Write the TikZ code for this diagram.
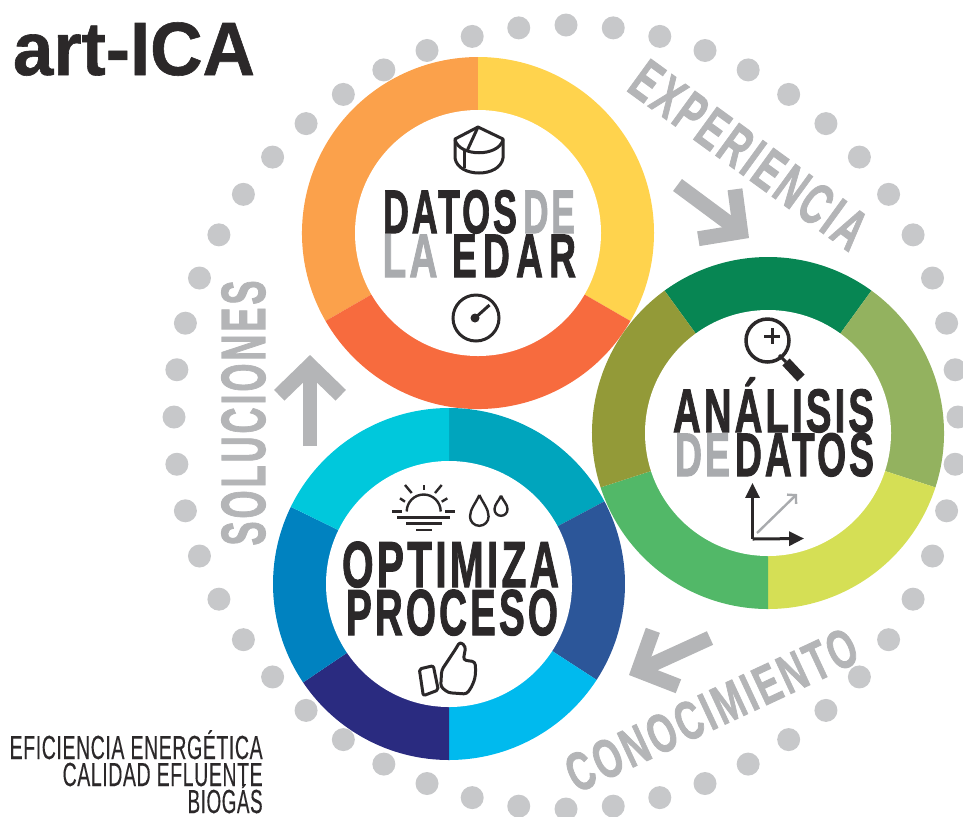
\documentclass[tikz,border=0pt]{standalone}
\usepackage{fontspec}
\usepackage{graphicx}
\setmainfont{Liberation Sans}
\newfontfamily\heavyfont[FakeBold=1.8, LetterSpace=8]{Liberation Sans}
\newfontfamily\plainfont[FakeBold=0.3, LetterSpace=3]{Liberation Sans}
\newfontfamily\titlefont[FakeBold=0.8]{Liberation Sans}
\usetikzlibrary{arrows.meta, positioning, calc}
\newlength{\px}
\setlength{\px}{0.02cm}
\newcommand{\fitword}[2]{\resizebox{#1\px}{\height}{#2}}
\definecolor{inkblack}{HTML}{2B2829}
\definecolor{softgrey}{HTML}{A9ABAE}
\definecolor{arrowgrey}{HTML}{B4B5B7}
\definecolor{dotgrey}{HTML}{C7C8CA}
\tikzstyle{darkword} = [anchor=base, inner sep=0pt, text=inkblack, font=\heavyfont\bfseries\fontsize{35}{35}\selectfont]
\tikzstyle{greyword} = [darkword, text=softgrey]
\tikzstyle{sideword} = [anchor=center, inner sep=0pt, text=arrowgrey, font=\heavyfont\bfseries\fontsize{33}{33}\selectfont]
\tikzstyle{smallword} = [anchor=base east, inner sep=0pt, text=inkblack, font=\plainfont\fontsize{19}{19}\selectfont]
\tikzstyle{bigarrow} = [draw=arrowgrey, line width=8.5pt, -{Straight Barb[length=17pt, width=35pt, line width=8.5pt]}]
\tikzstyle{icon} = [draw=inkblack, line width=3\px]
\tikzstyle{thinicon} = [draw=inkblack, line width=2.4\px]

\begin{document}
\begin{tikzpicture}[x=0.02cm, y=0.02cm, yscale=-1]
    \useasboundingbox (0,0) rectangle (963,816);
    \coordinate (dotcentre) at (566,417);
    \coordinate (datoscentre) at (478,233);
    \coordinate (analisiscentre) at (768,433);
    \coordinate (procesocentre) at (449,584);

    \foreach \i in {0,...,51}
        \fill[dotgrey] (dotcentre) ++(\i*90/13:392) circle (11.5\px);

    \foreach \from/\to/\col in {150/270/FBA14B, 270/390/FFD34D, 30/150/F76B3E}
        {\definecolor{ringcol}{HTML}{\col}
        \fill[ringcol] (datoscentre) -- ++(\from:176) arc[start angle=\from, end angle=\to, radius=176\px] -- cycle;}
    \foreach \from/\to/\col in {234/306/078653, 306/378/93B25F, 18/90/D5DF55, 90/162/52B868, 162/234/939A38}
        {\definecolor{ringcol}{HTML}{\col}
        \fill[ringcol] (analisiscentre) -- ++(\from:176) arc[start angle=\from, end angle=\to, radius=176\px] -- cycle;}
    \foreach \from/\to/\col in {270/332/00A5BD, 332/393/2C5699, 33/90/00BAEE, 90/146/2A2B80, 146/206/0082C0, 206/270/00C8DC}
        {\definecolor{ringcol}{HTML}{\col}
        \fill[ringcol] (procesocentre) -- ++(\from:176) arc[start angle=\from, end angle=\to, radius=176\px] -- cycle;}
    \fill[white] (datoscentre) circle (123\px);
    \fill[white] (analisiscentre) circle (123\px);
    \fill[white] (procesocentre) circle (123\px);

    \node (title) [darkword, font=\titlefont\bfseries\fontsize{43}{43}\selectfont] at (134,75) {\fitword{242}{art-ICA}};

    \node (datos) [darkword] at (450,233) {\fitword{134}{DATOS}};
    \node (dea) [greyword] at (549,233) {\fitword{52}{DE}};
    \node (la) [greyword] at (410,277) {\fitword{55}{LA}};
    \node (edar) [darkword] at (514,277) {\fitword{124}{E\,D\,A\,R}};

    \node (analisis) [darkword] at (773.5,432) {\fitword{201}{ANÁLISIS}};
    \node (deb) [greyword] at (702.5,476) {\fitword{55}{DE}};
    \node (datosb) [darkword] at (804.5,476) {\fitword{139}{DATOS}};

    \node (optimiza) [darkword, font=\heavyfont\bfseries\fontsize{37}{37}\selectfont] at (450.5,587) {\fitword{217}{OPTIMIZA}};
    \node (proceso) [darkword, font=\heavyfont\bfseries\fontsize{37}{37}\selectfont] at (452,635) {\fitword{212}{PROCESO}};

    \node (experiencia) [sideword, rotate=-36] at (749,155) {\fitword{277}{EXPERIENCIA}};
    \node (conocimiento) [sideword, rotate=25, font=\heavyfont\bfseries\fontsize{31}{31}\selectfont] at (711.5,710) {\fitword{315}{CONOCIMIENTO}};
    \node (soluciones) [sideword, rotate=90, font=\heavyfont\bfseries\fontsize{35.5}{35.5}\selectfont] at (243.5,413) {\fitword{265}{SOLUCIONES}};

    \node (eficiencia) [smallword] at (263,759) {\fitword{253}{EFICIENCIA ENERGÉTICA}};
    \node (calidad) [smallword] at (263,786) {\fitword{200}{CALIDAD EFLUENTE}};
    \node (biogas) [smallword] at (263,813) {\fitword{75}{BIOGÁS}};

    \coordinate (exptail) at (677.5,185);
    \coordinate (exptip) at (749,238);
    \coordinate (contail) at (710,638);
    \coordinate (contip) at (629,675);
    \coordinate (soltail) at (310,446);
    \coordinate (soltip) at (310,355);
    \draw [bigarrow] (exptail) -- (exptip);
    \draw [bigarrow] (contail) -- (contip);
    \draw [bigarrow] (soltail) -- (soltip);

    % silo
    \draw [icon, line join=round] (455,139) -- (478,127) -- (503,139) -- (503,158) .. controls (500,178) and (458,178) .. (455,158) -- cycle;
    \draw [icon] (455,140) .. controls (460,157) and (498,157) .. (503,140);
    \draw [icon] (478,127) -- (467,151);
    \draw [icon] (464,150) -- (464,168);

    % gauge
    \draw [icon] (476,318) circle (23\px);
    \fill [inkblack] (475,318) circle (4.5\px);
    \coordinate (needle) at (489.5,305);
    \draw [icon] (475,318) -- (needle);

    % magnifier
    \draw [icon, line width=3.5\px] (767.5,340.5) circle (21.5\px);
    \draw [icon] (764,336) -- (780,336);
    \draw [icon] (772,328) -- (772,344);
    \draw [icon] (779,355) -- (786,362);
    \draw [icon, line width=10\px] (786,362) -- (801,378);

    % axes
    \coordinate (origin) at (752.5,539);
    \coordinate (uptip) at (752.5,483);
    \coordinate (righttip) at (804,538.5);
    \coordinate (diagstart) at (757,533);
    \coordinate (diagtip) at (797,494);
    \draw [icon, -{Triangle[length=8.5pt, width=8pt]}] (origin) -- (uptip);
    \draw [icon, -{Triangle[length=8.5pt, width=8pt]}] (origin) -- (righttip);
    \draw [draw=softgrey, line width=2.4\px, -{Straight Barb[length=3.4pt, width=7.4pt, line width=1.36pt]}] (diagstart) -- (diagtip);

    % sun
    \draw [thinicon] (406.7,511.5) arc[start angle=180, end angle=360, radius=17\px];
    \draw [thinicon] (423.7,485) -- (423.7,490);
    \draw [thinicon] (405,485) -- (411.7,493);
    \draw [thinicon] (441.7,485) -- (435,493);
    \draw [thinicon] (400,498.3) -- (405,501.7);
    \draw [thinicon] (447.3,498.3) -- (441.7,501.7);
    \draw [thinicon] (392.3,511.5) -- (402.3,511.5);
    \draw [thinicon] (445,511.5) -- (455,511.5);
    \draw [icon] (397.3,517.5) -- (450,517.5);
    \draw [thinicon] (406,523.5) -- (441.7,523.5);
    \draw [thinicon] (416,530) -- (431.7,530);

    % drops
    \draw [thinicon] (479.3,495) .. controls (476,503) and (470,509) .. (470,516.5) arc[start angle=180, end angle=0, radius=9.3\px] .. controls (488.6,509) and (483,503) .. (479.3,495);
    \draw [thinicon] (501,495.7) .. controls (499,501) and (494.5,504) .. (494.5,509.3) arc[start angle=180, end angle=0, radius=6.5\px] .. controls (507.5,504) and (503,501) .. (501,495.7);

    % thumb
    \draw [icon, line join=round, rounded corners=2\px] (419.3,669) -- (433.3,665.7) -- (438.3,690) -- (423.3,695.7) -- cycle;
    \draw [icon, line join=round, rounded corners=3\px] (441.7,670) -- (455,650) -- (460,641.7) -- (465.7,646.7) -- (463.3,660) -- (475,661.7) -- (475.7,670) -- (475,678.3) -- (471.7,686.7) -- (466.7,694) -- (448.3,692.7) -- (440.7,686.7) -- cycle;
\end{tikzpicture}
\end{document}
